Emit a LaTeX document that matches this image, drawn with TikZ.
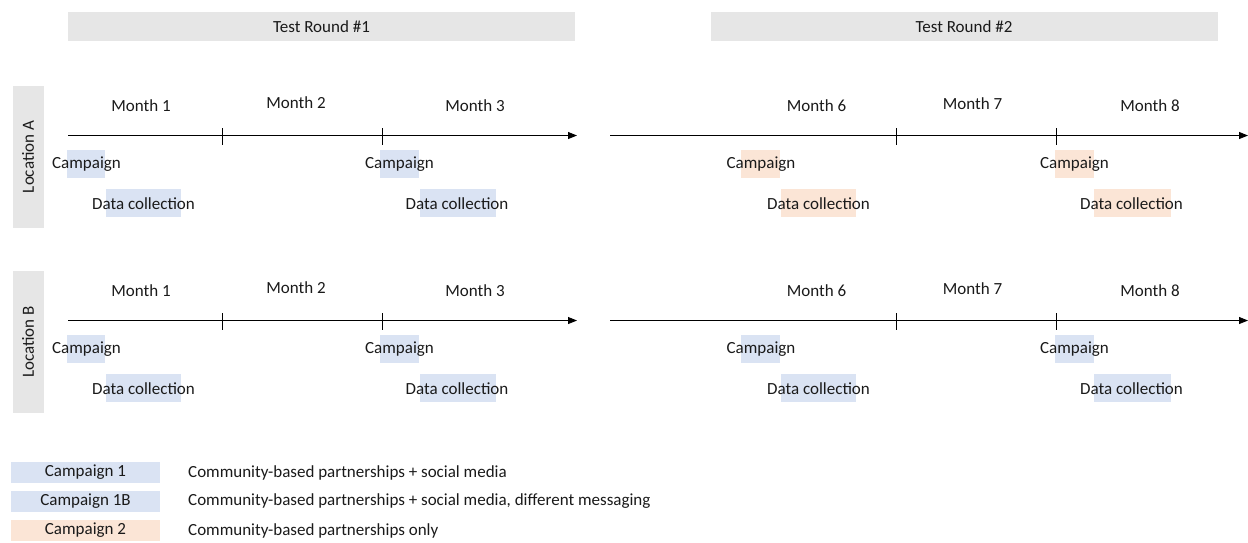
\documentclass[tikz,border=0pt]{standalone}
\usepackage{fontspec}
\setmainfont{Carlito}
\usetikzlibrary{arrows.meta}
\definecolor{bluehl}{HTML}{DAE3F3}
\definecolor{orangehl}{HTML}{FBE5D6}
\definecolor{grayhd}{HTML}{E6E6E6}
\definecolor{txt}{HTML}{1A1A1A}
\begin{document}
\begin{tikzpicture}[x=1pt,y=-1pt,
  font=\fontsize{17}{20}\selectfont, text=txt,
  hdr/.style={fill=grayhd, minimum width=507pt, minimum height=29pt, inner sep=0pt},
  locbox/.style={fill=grayhd, minimum width=142pt, minimum height=31pt, inner sep=0pt, rotate=90},
  hl/.style={fill=#1, minimum height=28pt, inner sep=0pt, anchor=north west},
  lbl/.style={inner sep=0pt},
  axis/.style={line width=0.8pt, -{Triangle[length=9pt,width=7pt]}},
  tick/.style={line width=0.7pt},
  leg/.style={fill=#1, minimum width=149pt, minimum height=21pt, inner sep=0pt},
  desc/.style={inner sep=0pt, anchor=west}
]
\useasboundingbox (0,0) rectangle (1248,542);

% headers
\node[hdr] (h1) at (321.5,26.5) {Test Round \#1};
\node[hdr] (h2) at (964,26.5) {Test Round \#2};

\foreach \r/\dy/\rc in {A/0/orangehl, B/185/bluehl}{
\begin{scope}[shift={(0,\dy)}]
  \node[locbox] (loc\r) at (28,157) {Location \r};
  % left timeline
  \coordinate (\r-ls) at (68,135.5);
  \coordinate (\r-le) at (577,135.5);
  \draw[axis] (\r-ls) -- (\r-le);
  \coordinate (\r-t1) at (222,135.5);
  \coordinate (\r-t2) at (382,135.5);
  \draw[tick] ([yshift=7.5pt]\r-t1) -- ([yshift=-9pt]\r-t1);
  \draw[tick] ([yshift=7.5pt]\r-t2) -- ([yshift=-9pt]\r-t2);
  \node[lbl] (\r-m1) at (141,106) {Month 1};
  \node[lbl] (\r-m2) at (296,103) {Month 2};
  \node[lbl] (\r-m3) at (475,106) {Month 3};
  \node[hl=bluehl, minimum width=38pt] (\r-c1b) at (67,150) {};
  \node[lbl] (\r-c1) at (86.5,164.5) {Campaign};
  \node[hl=bluehl, minimum width=75pt] (\r-d1b) at (106,189) {};
  \node[lbl] (\r-d1) at (143.5,203.5) {Data collection};
  \node[hl=bluehl, minimum width=39pt] (\r-c2b) at (380,150) {};
  \node[lbl] (\r-c2) at (399.5,164.5) {Campaign};
  \node[hl=bluehl, minimum width=76pt] (\r-d2b) at (420,189) {};
  \node[lbl] (\r-d2) at (457,203.5) {Data collection};
  % right timeline
  \coordinate (\r-rs) at (610,135.5);
  \coordinate (\r-re) at (1248,135.5);
  \draw[axis] (\r-rs) -- (\r-re);
  \coordinate (\r-t3) at (896.5,135.5);
  \coordinate (\r-t4) at (1056,135.5);
  \draw[tick] ([yshift=7.5pt]\r-t3) -- ([yshift=-9pt]\r-t3);
  \draw[tick] ([yshift=7.5pt]\r-t4) -- ([yshift=-9pt]\r-t4);
  \node[lbl] (\r-m6) at (816.5,106) {Month 6};
  \node[lbl] (\r-m7) at (972.5,104) {Month 7};
  \node[lbl] (\r-m8) at (1150,106) {Month 8};
  \node[hl=\rc, minimum width=39pt] (\r-c3b) at (741,150) {};
  \node[lbl] (\r-c3) at (761,164.5) {Campaign};
  \node[hl=\rc, minimum width=75pt] (\r-d3b) at (781,189) {};
  \node[lbl] (\r-d3) at (818.5,203.5) {Data collection};
  \node[hl=\rc, minimum width=39pt] (\r-c4b) at (1055,150) {};
  \node[lbl] (\r-c4) at (1074.5,164.5) {Campaign};
  \node[hl=\rc, minimum width=77pt] (\r-d4b) at (1094,189) {};
  \node[lbl] (\r-d4) at (1131.5,203.5) {Data collection};
\end{scope}
}

% legend
\node[leg=bluehl] (l1) at (85.5,472.5) {Campaign 1};
\node[leg=bluehl] (l2) at (85.5,501.5) {Campaign 1B};
\node[leg=orangehl] (l3) at (85.5,530.5) {Campaign 2};
\node[desc] (d1) at (188,472.5) {Community-based partnerships + social media};
\node[desc] (d2) at (188,501.5) {Community-based partnerships + social media, different messaging};
\node[desc] (d3) at (188,530.5) {Community-based partnerships only};
\end{tikzpicture}
\end{document}
